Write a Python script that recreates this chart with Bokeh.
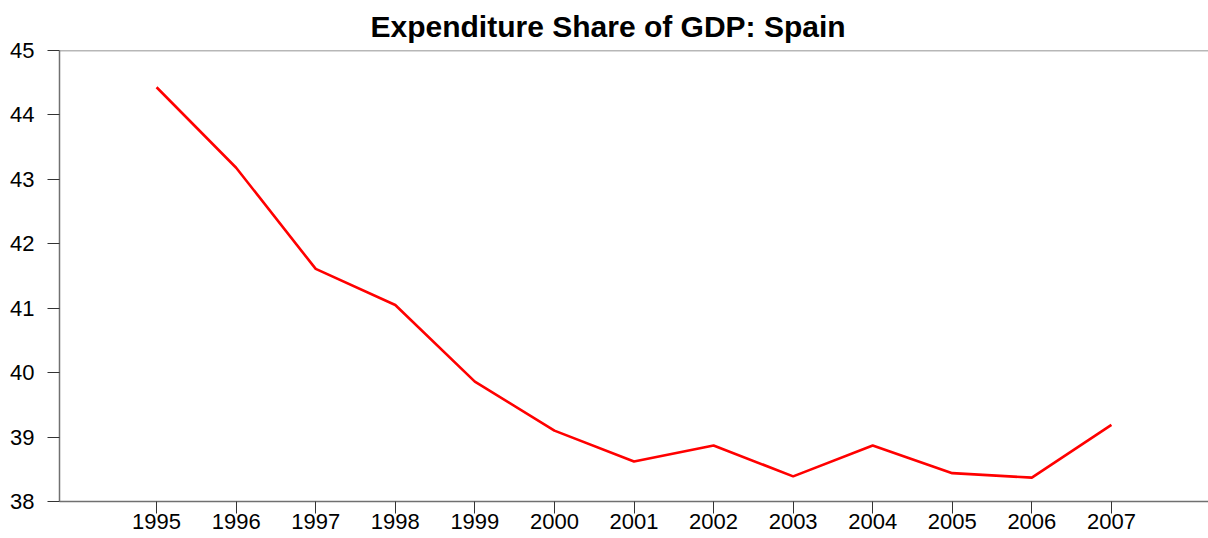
from bokeh.plotting import figure
from bokeh.models import Range1d, FixedTicker, Span
from bokeh.embed import file_html
from bokeh.resources import INLINE

years = [1995, 1996, 1997, 1998, 1999, 2000, 2001, 2002, 2003, 2004, 2005, 2006, 2007]
share = [44.43, 43.18, 41.61, 41.05, 39.86, 39.10, 38.62, 38.87, 38.39, 38.87, 38.44, 38.37, 39.19]
y_ticks = [38, 39, 40, 41, 42, 43, 44, 45]

FONT = "Liberation Sans"

p = figure(width=1208, height=538, output_backend="svg", toolbar_location=None,
           x_range=Range1d(1993.78, 2008.22), y_range=Range1d(38, 45),
           min_border_left=59, min_border_right=0, min_border_bottom=37, min_border_top=49)
p.outline_line_color = None
p.grid.visible = False
p.background_fill_color = "white"

p.title.text = "Expenditure Share of GDP: Spain"
p.title.text_font = FONT
p.title.text_font_size = "30px"
p.title.text_font_style = "bold"
p.title.text_color = "black"
p.title.align = "left"
p.title.offset = 311
p.title.standoff = 15

p.line(years, share, line_color="#ff0000", line_width=2.6)

for ax in (p.xaxis[0], p.yaxis[0]):
    ax.axis_line_color = "#707070"
    ax.axis_line_width = 1.5
    ax.major_tick_line_color = "#333333"
    ax.major_tick_line_width = 1
    ax.major_tick_in = 0
    ax.minor_tick_line_color = None
    ax.major_label_text_font = FONT
    ax.major_label_text_font_size = "22px"
    ax.major_label_text_color = "black"

p.xaxis[0].ticker = FixedTicker(ticks=years)
p.xaxis[0].major_tick_out = 12
p.xaxis[0].major_label_standoff = 0
p.yaxis[0].ticker = FixedTicker(ticks=y_ticks)
p.yaxis[0].major_tick_out = 12
p.yaxis[0].major_label_standoff = 13

p.add_layout(Span(location=45, dimension="width", line_color="#707070", line_width=1.5))

open("out.html", "w").write(file_html(p, INLINE))
